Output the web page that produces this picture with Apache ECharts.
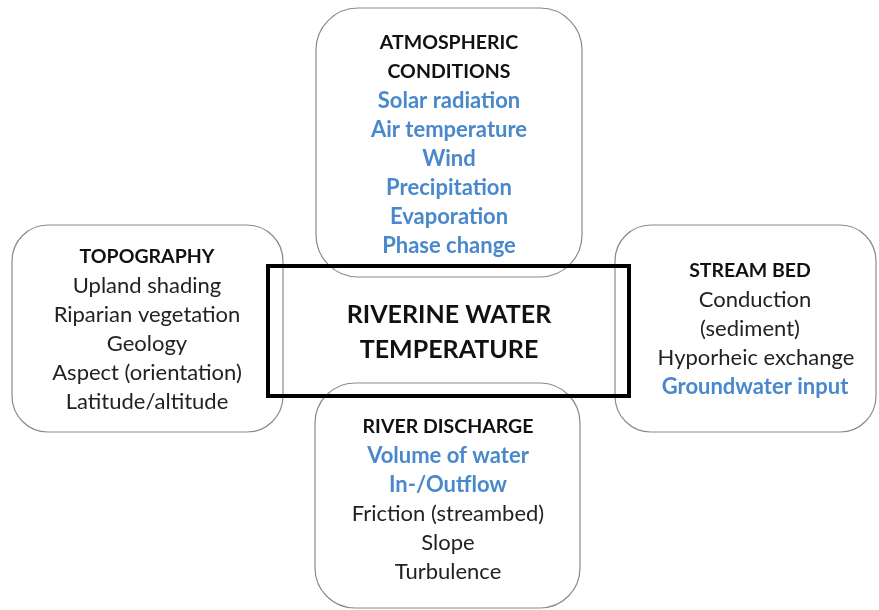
<!DOCTYPE html>
<html>
<head>
<meta charset="utf-8">
<script src="https://cdn.jsdelivr.net/npm/echarts@6/dist/echarts.min.js"></script>
<style>
html,body{margin:0;padding:0;background:#fff;}
#main{width:879px;height:610px;}
</style>
</head>
<body>
<div id="main"></div>
<script>
// box contents: [text, kind] kind: h = heading, b = blue, t = plain
var atmosLines = [['ATMOSPHERIC','h'],['CONDITIONS','h'],['Solar radiation','b'],['Air temperature','b'],['Wind','b'],['Precipitation','b'],['Evaporation','b'],['Phase change','b']];
var topoLines = [['TOPOGRAPHY','h'],['Upland shading','t'],['Riparian vegetation','t'],['Geology','t'],['Aspect (orientation)','t'],['Latitude/altitude','t']];
var bedLines = [['STREAM BED','h'],['Conduction','t'],['(sediment)','t'],['Hyporheic exchange','t'],['Groundwater input','b']];
var dischargeLines = [['RIVER DISCHARGE','h'],['Volume of water','b'],['In-/Outflow','b'],['Friction (streambed)','t'],['Slope','t'],['Turbulence','t']];
var centerLines = ['RIVERINE WATER','TEMPERATURE'];

var FONT = 'Lato';
var BLUE = '#4a88cc';
var lineH = 29;

var myChart = echarts.init(document.getElementById('main'));
var elements = [];

function boxFun(x, y, w, h, r){
	elements.push({
		type:'rect',
		shape:{x:x, y:y, width:w, height:h, r:r},
		style:{fill:'none', stroke:'#8a8a8a', lineWidth:1.2}
	});
}

function textFun(lines, cx, y0, offs){
	for (var i = 0; i < lines.length; i++) {
		var k = lines[i][1];
		var dx = offs ? offs[i] : 0;
		elements.push({
			type:'text',
			x:cx + dx,
			y:y0 + i*lineH,
			style:{
				text:lines[i][0],
				fill: k=='b' ? BLUE : (k=='h' ? '#111' : '#222'),
				font: (k=='t' ? 'normal ' : 'bold ') + (k=='h' ? '19.5px ' : '22px ') + FONT,
				align:'center',
				verticalAlign:'middle'
			}
		});
	}
}

boxFun(316, 8, 266, 269, 42);
boxFun(12, 225, 271, 207, 36);
boxFun(615, 225, 261, 207, 36);
boxFun(315, 383, 265, 225, 40);

textFun(atmosLines, 449, 43);
textFun(topoLines, 147, 257);
textFun(bedLines, 752, 271, [-2, 3, -2, 4, 3]);
textFun(dischargeLines, 448, 427);

elements.push({
	type:'rect',
	shape:{x:268, y:266, width:361, height:130},
	style:{fill:'none', stroke:'#000', lineWidth:4}
});
for (var i = 0; i < centerLines.length; i++) {
	elements.push({
		type:'text',
		x:449,
		y:315 + i*35,
		style:{text:centerLines[i], fill:'#111', font:'bold 25px ' + FONT, align:'center', verticalAlign:'middle'}
	});
}

myChart.setOption({
	animation:false,
	graphic:{elements:elements}
});
</script>
</body>
</html>
